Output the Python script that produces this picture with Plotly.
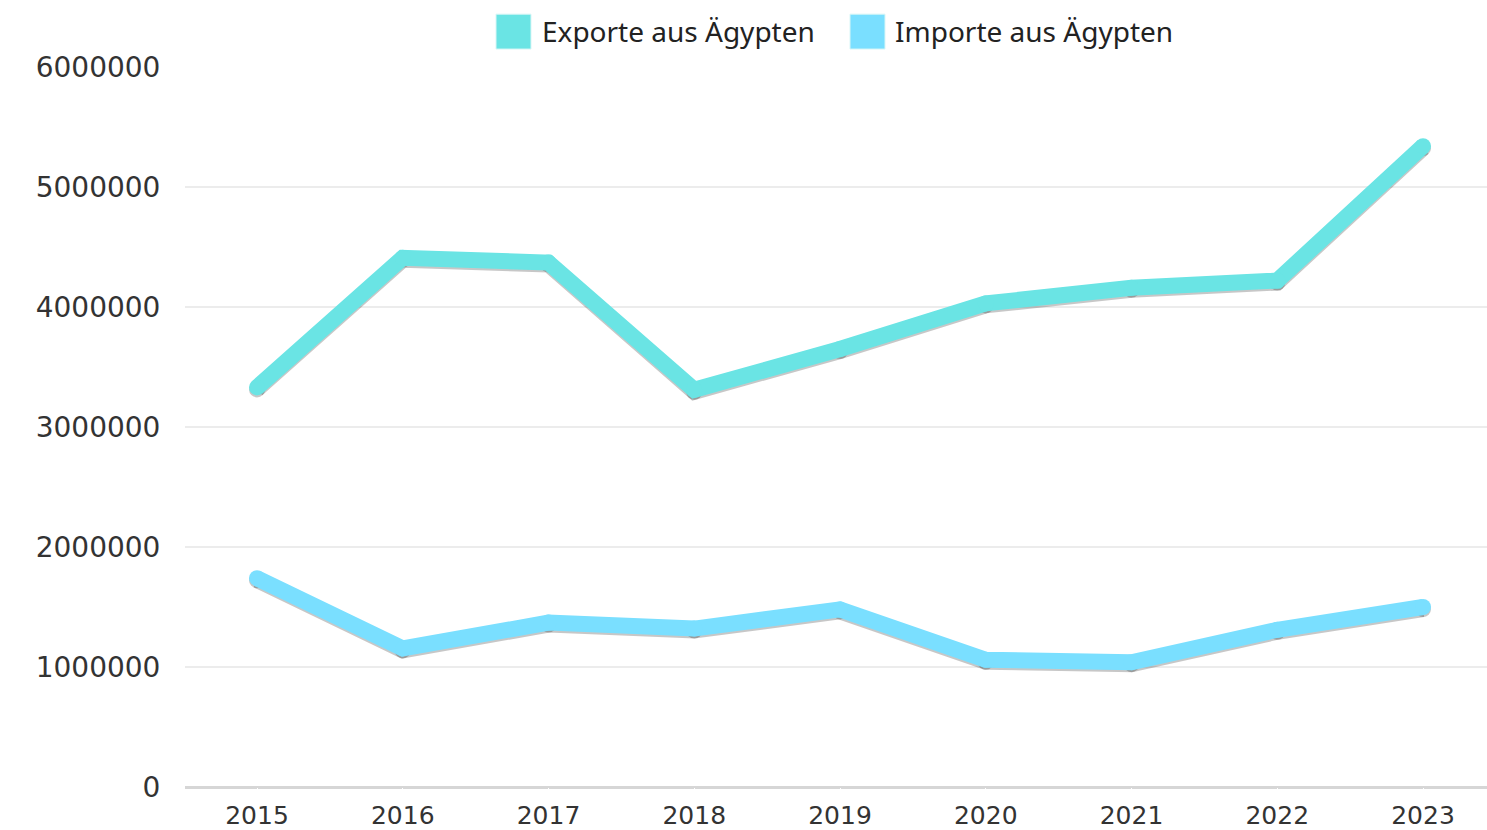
import plotly.graph_objects as go

years = [2015, 2016, 2017, 2018, 2019, 2020, 2021, 2022, 2023]
exporte = [3330000, 4410000, 4370000, 3310000, 3650000, 4030000, 4160000, 4220000, 5340000]
importe = [1740000, 1155000, 1370000, 1320000, 1480000, 1060000, 1040000, 1310000, 1500000]
y_ticks = [0, 1000000, 2000000, 3000000, 4000000, 5000000, 6000000]

series_names = ["Exporte aus Ägypten", "Importe aus Ägypten"]
colors = ["#6ae4e4", "#7adfff"]

W, H = 1487, 830
L, R, T, B = 185, 0, 67, 41
plot_h = H - T - B
shadow_px = 2.0
shift = shadow_px * 6000000 / plot_h

fig = go.Figure()
# soft shadow on the base (hidden) axis, drawn beneath
for vals in [exporte, importe]:
    fig.add_trace(go.Scatter(
        x=years, y=vals, mode="lines+markers", yaxis="y",
        line=dict(color="rgba(0,0,0,0.22)", width=16),
        marker=dict(color="rgba(0,0,0,0.22)", size=16),
        showlegend=False, hoverinfo="skip"))
for name, vals, c in zip(series_names, [exporte, importe], colors):
    fig.add_trace(go.Scatter(
        x=years, y=vals, mode="lines+markers", name=name, yaxis="y2",
        line=dict(color=c, width=16),
        marker=dict(color=c, size=16),
        showlegend=False))

x0 = 2015 - 72 / 145.75
x1 = 2023 + 64 / 145.75
fig.update_layout(
    width=W, height=H,
    margin=dict(l=L, r=R, t=T, b=B),
    plot_bgcolor="white", paper_bgcolor="white",
    font=dict(family="DejaVu Sans", color="#333333"),
    xaxis=dict(range=[x0, x1], tickvals=years, ticktext=[str(y) for y in years],
               showgrid=False, zeroline=False, showline=False,
               tickfont=dict(size=25), ticks="outside", ticklen=6, tickcolor="white"),
    yaxis=dict(range=[shift, 6000000 + shift], visible=False, showgrid=False, zeroline=False),
    yaxis2=dict(range=[0, 6000000], overlaying="y", side="left",
                tickvals=y_ticks, ticktext=[str(v) for v in y_ticks],
                showgrid=True, gridcolor="#ececec", gridwidth=2,
                zeroline=True, zerolinecolor="#d6d6d6", zerolinewidth=3,
                tickfont=dict(size=28), ticks="outside", ticklen=18, tickcolor="white",
                showline=False),
    showlegend=False,
)

def px_x(p):
    return (p - L) / (W - L - R)

def px_y(p):
    return (H - B - p) / plot_h

legend_items = [(496, 540), (850, 893)]
for (sx, tx), name, c in zip(legend_items, series_names, colors):
    fig.add_shape(type="rect", xref="paper", yref="paper",
                  x0=px_x(sx), x1=px_x(sx + 35), y0=px_y(49), y1=px_y(14),
                  fillcolor=c, line=dict(color="#d9f6f6", width=1))
    fig.add_annotation(xref="paper", yref="paper", x=px_x(tx), y=px_y(31),
                       xanchor="left", yanchor="middle", showarrow=False,
                       text=name, font=dict(family="Noto Sans", size=28, color="#222222"))

fig.write_html("out.html")
